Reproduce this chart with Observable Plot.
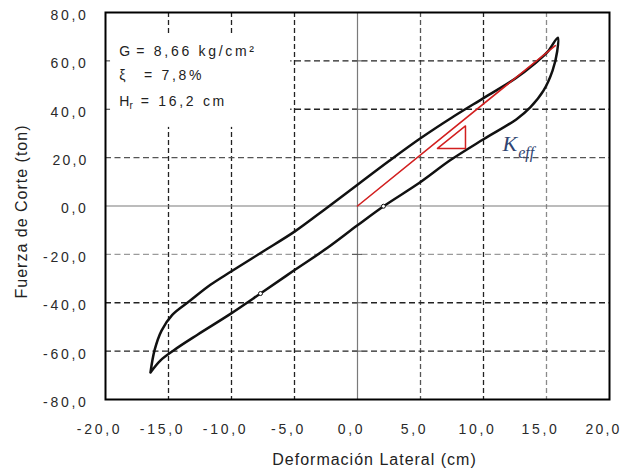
<!DOCTYPE html>
<html>
<head>
<meta charset="utf-8">
<script src="https://cdn.jsdelivr.net/npm/d3@7"></script>
<script src="https://cdn.jsdelivr.net/npm/@observablehq/plot@0.6"></script>
<style>
  html, body { margin: 0; padding: 0; background: #fff; }
</style>
</head>
<body>
<div id="chart"></div>
<script>
// ---- data ----
const xTicks = [-20, -15, -10, -5, 0, 5, 10, 15, 20];
const yTicks = [-80, -60, -40, -20, 0, 20, 40, 60, 80];
const xGrid = [-15, -10, -5, 5, 10, 15];
const yGrid = [-60, -40, -20, 20, 40, 60];

// hysteresis loop: upper branch (left tip -> right tip)
const upperD = [-16.43, -16.1, -15.55, -14.7, -13.25, -11.67, -10.0, -7.5, -5.0, -2.5, 0.0, 2.5, 5.0, 7.5, 10.0, 12.5, 14.0, 15.1, 15.9];
const upperF = [-68.8, -59.5, -51.5, -45.0, -39.0, -32.6, -27.0, -18.8, -10.6, -1.0, 8.8, 18.6, 28.0, 36.6, 44.6, 52.6, 58.6, 63.8, 69.6];
// lower branch (right tip -> left tip)
const lowerD = [15.85, 15.48, 14.76, 13.73, 12.6, 10.0, 7.38, 4.92, 2.1, 0.0, -2.38, -5.08, -7.7, -10.08, -12.7, -14.6, -15.63, -16.43];
const lowerF = [64.0, 56.0, 47.7, 40.9, 35.8, 27.6, 19.0, 9.6, 0.0, -8.0, -17.3, -26.8, -36.2, -44.6, -53.2, -59.7, -63.8, -68.8];

// effective stiffness line and slope triangle
const keffD = [0, 15.7];
const keffF = [0, 66.3];
const triD = [6.35, 8.57, 8.57, 6.35];
const triF = [23.8, 23.8, 33.1, 23.8];

// small markers on the loop
const markD = [2.06, -7.7];
const markF = [-0.1, -36.2];

// annotation texts
const infoSymbols = ["G", "ξ", "H"];
const infoValues = ["= 8,66 kg/cm²", "= 7,8%", "= 16,2 cm"];
const infoSub = "r";
const xTitle = "Deformación Lateral (cm)";
const yTitle = "Fuerza de Corte (ton)";

// ---- tables ----
const loop = upperD.map((d, i) => ({d, f: upperF[i]}))
  .concat(lowerD.map((d, i) => ({d, f: lowerF[i]})));
const keff = keffD.map((d, i) => ({d, f: keffF[i]}));
const tri = triD.map((d, i) => ({d, f: triF[i]}));
const marks = markD.map((d, i) => ({d, f: markF[i]}));
const symCols = [-18.9, -18.9, -18.9];
const valCols = [-17.55, -16.95, -17.2];
const rowF = [64.0, 53.9, 43.4];
const symTable = infoSymbols.map((s, i) => ({s, x: symCols[i], y: rowF[i]}));
const valTable = infoValues.map((s, i) => ({s, x: valCols[i], y: rowF[i]}));

const fmt = v => v.toFixed(1).replace(".", ",");
const gridColorX = v => v === 15 ? "#8a8a8a" : v === 5 ? "#555" : "#222";
const gridColorY = v => v === -20 ? "#9a9a9a" : v === 20 ? "#555" : "#222";

const chart = Plot.plot({
  width: 622,
  height: 474,
  marginLeft: 105,
  marginRight: 13,
  marginTop: 12,
  marginBottom: 75,
  x: {domain: [-20, 20]},
  y: {domain: [-80, 80]},
  style: {
    fontFamily: "'Liberation Sans', Arial, sans-serif",
    fontSize: "14px",
    letterSpacing: "2.7px",
    color: "#2a2a2a",
    background: "#fff"
  },
  marks: [
    // dashed grid
    Plot.ruleX(xGrid, {stroke: gridColorX, strokeWidth: 1.3, strokeDasharray: "5,3"}),
    Plot.ruleY(yGrid, {stroke: gridColorY, strokeWidth: 1.3, strokeDasharray: "6,3.5"}),
    // zero lines
    Plot.ruleX([0], {stroke: "#7a7a7a", strokeWidth: 1.2}),
    Plot.ruleY([0], {stroke: "#7a7a7a", strokeWidth: 1.2}),
    Plot.ruleY(yGrid, {x1: -0.4, x2: 0.4, stroke: "#555", strokeWidth: 1}),
    // white box behind annotation
    Plot.rect([{x1: -20, x2: -5.3, y1: 32.5, y2: 71.3}], {x1: "x1", x2: "x2", y1: "y1", y2: "y2", fill: "#fff"}),
    Plot.ruleY([60, 40], {x1: -20, x2: -19.6, stroke: "#333", strokeWidth: 1}),
    // hysteresis loop
    Plot.line(loop, {x: "d", y: "f", curve: "catmull-rom", stroke: "#111", strokeWidth: 2.5, strokeLinejoin: "round", strokeLinecap: "round"}),
    Plot.dot(marks, {x: "d", y: "f", r: 2, stroke: "#111", fill: "#fff", strokeWidth: 1}),
    // Keff line and triangle
    Plot.line(keff, {x: "d", y: "f", stroke: "#d21f1f", strokeWidth: 1.6}),
    Plot.line(tri, {x: "d", y: "f", stroke: "#d21f1f", strokeWidth: 1.5}),
    Plot.text(["K"], {x: 11.5, y: 25.8, text: d => d, textAnchor: "start", fontFamily: "'Liberation Serif', serif", fontStyle: "italic", fontSize: 22, fill: "#2f4471"}),
    Plot.text(["eff"], {x: 12.75, y: 22.1, text: d => d, textAnchor: "start", fontFamily: "'Liberation Serif', serif", fontStyle: "italic", fontSize: 16, fill: "#2f4471"}),
    // annotation
    Plot.text(symTable, {x: "x", y: "y", text: "s", textAnchor: "start", fontSize: 14, fill: "#222"}),
    Plot.text(valTable, {x: "x", y: "y", text: "s", textAnchor: "start", fontSize: 14, fill: "#222"}),
    Plot.text([infoSub], {x: -18.1, y: 41.6, text: d => d, textAnchor: "start", fontSize: 10, fill: "#222"}),
    // frame
    Plot.frame({stroke: "#000", strokeWidth: 2}),
    // axes
    Plot.axisX(xTicks, {tickFormat: fmt, tickSize: 0, tickPadding: 25, dx: -6, label: null, fontSize: 14}),
    Plot.axisY(yTicks, {tickFormat: fmt, tickSize: 0, tickPadding: 17, dy: 3, label: null, fontSize: 14}),
    // titles
    Plot.text([xTitle], {frameAnchor: "bottom", text: d => d, dx: 17, dy: 60, textAnchor: "middle", lineAnchor: "middle", fontSize: 16, fill: "#222"}),
    Plot.text([yTitle], {frameAnchor: "left", text: d => d, dx: -84, dy: 5.5, rotate: -90, textAnchor: "middle", lineAnchor: "middle", fontSize: 16, fill: "#222"})
  ]
});

chart.querySelectorAll("text").forEach(t => {
  const s = t.textContent;
  if (s === xTitle || s === yTitle) t.style.letterSpacing = "1px";
  if (s === "K" || s === "eff") t.style.letterSpacing = "0px";
  if (s === "20,0") t.style.letterSpacing = "2.2px";
});

document.getElementById("chart").appendChild(chart);
</script>
</body>
</html>
